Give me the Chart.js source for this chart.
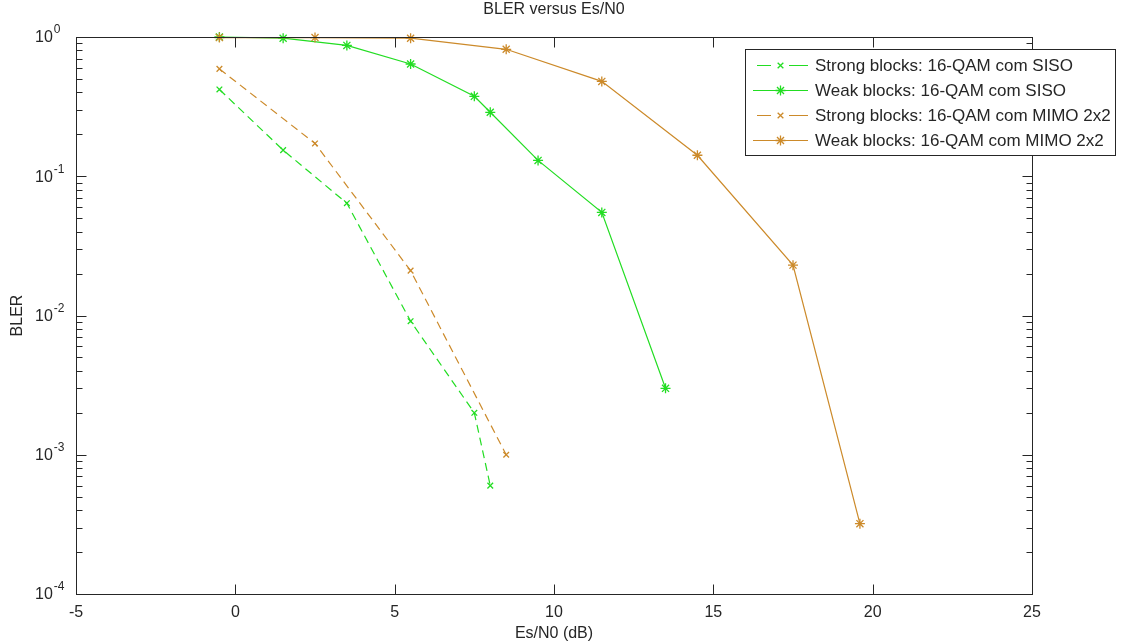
<!DOCTYPE html>
<html><head><meta charset="utf-8">
<script src="https://cdn.jsdelivr.net/npm/chart.js@4.4.1/dist/chart.umd.min.js"></script>
<style>html,body{margin:0;padding:0;background:#fff;overflow:hidden}#wrap{width:1123px;height:644px;position:relative}</style>
</head><body><div id="wrap"><canvas id="c" width="1123" height="644"></canvas></div>
<script>
const chartTitle = 'BLER versus Es/N0';
const xLabel = 'Es/N0 (dB)';
const yLabel = 'BLER';
const xTicks = [-5, 0, 5, 10, 15, 20, 25];
const yExponents = [0, -1, -2, -3, -4];
const seriesNames = [
  'Strong blocks: 16-QAM com SISO',
  'Weak blocks: 16-QAM com SISO',
  'Strong blocks: 16-QAM com MIMO 2x2',
  'Weak blocks: 16-QAM com MIMO 2x2'
];
const strongSisoX = [-0.5, 1.5, 3.5, 5.5, 7.5, 8.0];
const strongSisoY = [0.42, 0.154, 0.064, 0.0091, 0.002, 0.0006];
const weakSisoX = [-0.5, 1.5, 3.5, 5.5, 7.5, 8.0, 9.5, 11.5, 13.5];
const weakSisoY = [1.0, 0.98, 0.87, 0.64, 0.375, 0.288, 0.13, 0.055, 0.003];
const strongMimoX = [-0.5, 2.5, 5.5, 8.5];
const strongMimoY = [0.59, 0.172, 0.021, 0.001];
const weakMimoX = [-0.5, 2.5, 5.5, 8.5, 11.5, 14.5, 17.5, 19.6];
const weakMimoY = [0.99, 0.99, 0.98, 0.816, 0.48, 0.1415, 0.023, 0.00032];

const GREEN = '#22dd22';
const ORANGE = '#cc8a2a';
const TEXT = '#262626';
const FONT = '"Liberation Sans", Arial, Helvetica, sans-serif';

function pts(xs, ys) { return xs.map((x, i) => ({ x: x, y: ys[i] })); }

const styles = [
  { color: GREEN, dash: [8, 5], marker: 'crossRot', r: 4 },
  { color: GREEN, dash: [], marker: 'star', r: 5 },
  { color: ORANGE, dash: [8, 5], marker: 'crossRot', r: 4 },
  { color: ORANGE, dash: [], marker: 'star', r: 5 }
];
const allData = [pts(strongSisoX, strongSisoY), pts(weakSisoX, weakSisoY), pts(strongMimoX, strongMimoY), pts(weakMimoX, weakMimoY)];

const datasets = allData.map((d, i) => ({
  label: seriesNames[i],
  data: d,
  borderColor: styles[i].color,
  backgroundColor: styles[i].color,
  borderWidth: 1.2,
  borderDash: styles[i].dash,
  pointStyle: styles[i].marker,
  pointRadius: styles[i].r,
  pointBorderWidth: 1.3,
  pointBorderColor: styles[i].color,
  showLine: true,
  fill: false,
  tension: 0,
  clip: false,
  order: 3 - i
}));

function drawMarker(ctx, style, x, y, r) {
  ctx.beginPath();
  const d = r * Math.SQRT1_2;
  ctx.moveTo(x - d, y - d); ctx.lineTo(x + d, y + d);
  ctx.moveTo(x - d, y + d); ctx.lineTo(x + d, y - d);
  if (style === 'star') {
    ctx.moveTo(x - r, y); ctx.lineTo(x + r, y);
    ctx.moveTo(x, y - r); ctx.lineTo(x, y + r);
  }
  ctx.stroke();
}

const decor = {
  id: 'decor',
  afterDatasetsDraw(chart) {
    const ctx = chart.ctx;
    const a = chart.chartArea;
    const xs = chart.scales.x, ys = chart.scales.y;
    ctx.save();
    ctx.strokeStyle = TEXT;
    ctx.lineWidth = 1;
    ctx.setLineDash([]);
    const L = Math.round(a.left) + 0.5, R = Math.round(a.right) + 0.5;
    const T = Math.round(a.top) + 0.5, B = Math.round(a.bottom) + 0.5;
    ctx.strokeRect(L, T, R - L, B - T);
    ctx.beginPath();
    xTicks.forEach(v => {
      const px = Math.round(xs.getPixelForValue(v)) + 0.5;
      ctx.moveTo(px, B); ctx.lineTo(px, B - 10);
      ctx.moveTo(px, T); ctx.lineTo(px, T + 10);
    });
    yExponents.forEach(e => {
      const py = Math.round(ys.getPixelForValue(Math.pow(10, e))) + 0.5;
      ctx.moveTo(L, py); ctx.lineTo(L + 10, py);
      ctx.moveTo(R, py); ctx.lineTo(R - 10, py);
      if (e < 0) {
        for (let m = 2; m <= 9; m++) {
          const pm = Math.round(ys.getPixelForValue(m * Math.pow(10, e))) + 0.5;
          ctx.moveTo(L, pm); ctx.lineTo(L + 6, pm);
          ctx.moveTo(R, pm); ctx.lineTo(R - 6, pm);
        }
      }
    });
    ctx.stroke();

    // y tick labels 10^e
    ctx.fillStyle = TEXT;
    ctx.textBaseline = 'middle';
    ctx.textAlign = 'left';
    yExponents.forEach(e => {
      const py = ys.getPixelForValue(Math.pow(10, e));
      ctx.font = '16px ' + FONT;
      ctx.fillText('10', 35, py + 1);
      const w = ctx.measureText('10').width;
      ctx.font = '12px ' + FONT;
      ctx.fillText(String(e), 35 + w + 1, py - 7);
    });

    // title
    ctx.font = '16px ' + FONT;
    ctx.textAlign = 'center';
    ctx.fillText(chartTitle, (a.left + a.right) / 2, 10);

    // legend
    const bx = 745.5, by = 49.5, bw = 370, bh = 106;
    ctx.fillStyle = '#fff';
    ctx.fillRect(bx, by, bw, bh);
    ctx.strokeStyle = TEXT;
    ctx.strokeRect(bx, by, bw, bh);
    seriesNames.forEach((name, i) => {
      const ly = 65 + i * 25;
      const st = styles[i];
      ctx.strokeStyle = st.color;
      ctx.lineWidth = 1.2;
      ctx.beginPath();
      if (st.dash.length) {
        ctx.moveTo(757, ly + 0.5); ctx.lineTo(771, ly + 0.5);
        ctx.moveTo(789, ly + 0.5); ctx.lineTo(808, ly + 0.5);
      } else {
        ctx.moveTo(753, ly + 0.5); ctx.lineTo(808, ly + 0.5);
      }
      ctx.stroke();
      ctx.lineWidth = 1.3;
      drawMarker(ctx, st.marker, 780.5, ly + 0.5, st.r);
      ctx.fillStyle = TEXT;
      ctx.font = '17px ' + FONT;
      ctx.textAlign = 'left';
      ctx.textBaseline = 'middle';
      ctx.fillText(name, 815, ly + 1);
    });
    ctx.restore();
  }
};

new Chart(document.getElementById('c'), {
  type: 'scatter',
  data: { datasets: datasets },
  options: {
    responsive: false,
    animation: false,
    devicePixelRatio: 1,
    layout: { padding: { top: 37, right: 91, left: 0, bottom: 0 } },
    plugins: { legend: { display: false }, title: { display: false }, tooltip: { enabled: false } },
    scales: {
      x: {
        type: 'linear', min: -5, max: 25,
        afterBuildTicks: s => { s.ticks = xTicks.map(v => ({ value: v })); },
        afterFit: s => { s.height = 50; },
        grid: { display: false },
        border: { display: false },
        ticks: { color: TEXT, font: { size: 16, family: FONT }, padding: 1, maxRotation: 0 },
        title: { display: true, text: xLabel, color: TEXT, font: { size: 16, family: FONT }, padding: { top: 0, bottom: 1 } }
      },
      y: {
        type: 'logarithmic', min: 1e-4, max: 1,
        afterBuildTicks: s => { s.ticks = yExponents.map(e => ({ value: Math.pow(10, e) })); },
        afterFit: s => { s.width = 76; },
        grid: { display: false },
        border: { display: false },
        ticks: { display: false },
        title: { display: true, text: yLabel, color: TEXT, font: { size: 16, family: FONT }, padding: { top: 8, bottom: 0 } }
      }
    }
  },
  plugins: [decor]
});
</script></body></html>
